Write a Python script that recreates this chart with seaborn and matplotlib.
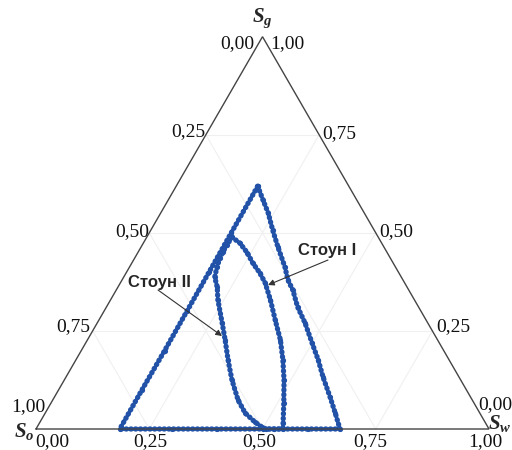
import numpy as np
import pandas as pd
import matplotlib
matplotlib.use("Agg")
import matplotlib.pyplot as plt
import seaborn as sns

# ---- data: ternary coordinates (S_w, S_g); S_o = 1 - S_w - S_g ----
stone1_sw = [0.180, 0.209, 0.237, 0.269, 0.302, 0.343, 0.366, 0.390, 0.422, 0.459,
             0.500, 0.535, 0.567, 0.608, 0.640, 0.671,
             0.600, 0.500, 0.400, 0.300, 0.185,
             0.184, 0.184, 0.183, 0.182, 0.181, 0.180]
stone1_sg = [0.619, 0.584, 0.551, 0.507, 0.464, 0.413, 0.380, 0.354, 0.311, 0.270,
             0.219, 0.176, 0.133, 0.082, 0.041, 0.000,
             0.000, 0.000, 0.000, 0.000, 0.000,
             0.100, 0.200, 0.300, 0.400, 0.500, 0.619]

stone2_sw = [0.188, 0.213, 0.242, 0.267, 0.295, 0.320, 0.353, 0.389, 0.426, 0.457,
             0.485, 0.514, 0.538, 0.545,
             0.525, 0.508,
             0.496, 0.474, 0.441, 0.409, 0.370, 0.336, 0.304, 0.276, 0.237, 0.219,
             0.201, 0.193, 0.188, 0.187, 0.187, 0.188]
stone2_sg = [0.489, 0.474, 0.449, 0.423, 0.398, 0.372, 0.329, 0.278, 0.227, 0.176,
             0.125, 0.066, 0.015, 0.000,
             0.000, 0.000,
             0.005, 0.018, 0.041, 0.074, 0.125, 0.176, 0.227, 0.270, 0.329, 0.362,
             0.387, 0.413, 0.436, 0.451, 0.469, 0.489]

tick_values = [0.0, 0.25, 0.5, 0.75, 1.0]
tick_labels = ["0,00", "0,25", "0,50", "0,75", "1,00"]
series_names = ["Стоун I", "Стоун II"]

BLUE = "#2152a8"
EDGE = "#444444"
GRID = "#f0f0f0"
R3 = np.sqrt(3) / 2


def tern(sw, sg):
    sw = np.asarray(sw, float)
    sg = np.asarray(sg, float)
    return sw + sg / 2.0, sg * R3


def pix(px, py):
    return (px - 36) / 453.0, (429 - py) / 453.0


sns.set_theme(style="white")
plt.rcParams["font.family"] = ["Liberation Serif", "DejaVu Serif"]
plt.rcParams["mathtext.fontset"] = "custom"
plt.rcParams["mathtext.it"] = "Liberation Serif:italic:bold"
plt.rcParams["mathtext.rm"] = "Liberation Serif:bold"

fig = plt.figure(figsize=(5.12, 4.5), dpi=100)
ax = fig.add_axes([0, 0, 1, 1])
ax.set_xlim(-36 / 453, 476 / 453)
ax.set_ylim(-21 / 453, 429 / 453)
ax.axis("off")

# grid lines
for v in [0.25, 0.5, 0.75]:
    for (a, b) in [((0, v), (1 - v, v)), ((v, 0), (v, 1 - v)), ((1 - v, 0), (0, 1 - v))]:
        x, y = tern([a[0], b[0]], [a[1], b[1]])
        ax.plot(x, y, color=GRID, lw=0.8, zorder=1)

# data loops
for sw, sg in [(stone1_sw, stone1_sg), (stone2_sw, stone2_sg)]:
    x, y = tern(sw, sg)
    df = pd.DataFrame({"x": x, "y": y})
    sns.lineplot(data=df, x="x", y="y", sort=False, estimator=None, ax=ax,
                 color=BLUE, lw=3.8, linestyle=(0, (0.1, 0.8)),
                 dash_capstyle="round", zorder=3)
    sns.scatterplot(data=df, x="x", y="y", ax=ax, color=BLUE, s=14,
                    marker="o", linewidth=0, zorder=3)

# triangle outline
tx, ty = tern([0, 1, 0, 0], [0, 0, 1, 0])
ax.plot(tx, ty, color=EDGE, lw=1.0, zorder=4, solid_joinstyle="miter")

fs = 14
PT = 0.72  # points per pixel at 100 dpi

# bottom axis (S_w)
bottom_dx = [16, 1, -3, -6, -4]
for v, lab, dx in zip(tick_values, tick_labels, bottom_dx):
    x, y = tern(v, 0)
    ax.annotate(lab, (x, y), xytext=(dx * PT, -4 * PT), textcoords="offset points",
                ha="center", va="top", fontsize=fs, color="#111111")

# left axis (S_o): 0 at top, 1 at bottom-left
left_off = [(-8, -7), (-1, 3), (0, 1), (-2, 4), (9, 22)]
for v, lab, (dx, dy) in zip(tick_values, tick_labels, left_off):
    x, y = tern(0, 1 - v)
    ax.annotate(lab, (x, y), xytext=(dx * PT, dy * PT), textcoords="offset points",
                ha="right", va="center", fontsize=fs, color="#111111")

# right axis (S_g): 1 at top, 0 at bottom-right
right_off = [(-11, 24), (4, 4), (3, 1), (3, 1), (8, -7)]
for v, lab, (dx, dy) in zip(tick_values, tick_labels, right_off):
    x, y = tern(1 - v, v)
    ax.annotate(lab, (x, y), xytext=(dx * PT, dy * PT), textcoords="offset points",
                ha="left", va="center", fontsize=fs, color="#111111")

# vertex labels
ax.text(*pix(262, 18), r"$S_g$", ha="center", va="center", fontsize=15)
ax.text(*pix(24, 431), r"$S_o$", ha="center", va="center", fontsize=15)
ax.text(*pix(488, 423), r"$S_w$", ha="left", va="center", fontsize=15)

# annotations
afont = dict(family=["Liberation Sans", "DejaVu Sans"], weight="bold", fontsize=12)
ax.text(*pix(298, 250), series_names[0], ha="left", va="center", **afont)
ax.text(*pix(128, 282), series_names[1], ha="left", va="center", **afont)
aprops = dict(arrowstyle="-|>", color="#333333", lw=0.8, mutation_scale=9,
              shrinkA=0, shrinkB=0)
ax.annotate("", xy=pix(268, 285), xytext=pix(328, 260), arrowprops=aprops, zorder=5)
ax.annotate("", xy=pix(222, 336), xytext=pix(158, 290), arrowprops=aprops, zorder=5)

fig.savefig("out.png", dpi=100)
